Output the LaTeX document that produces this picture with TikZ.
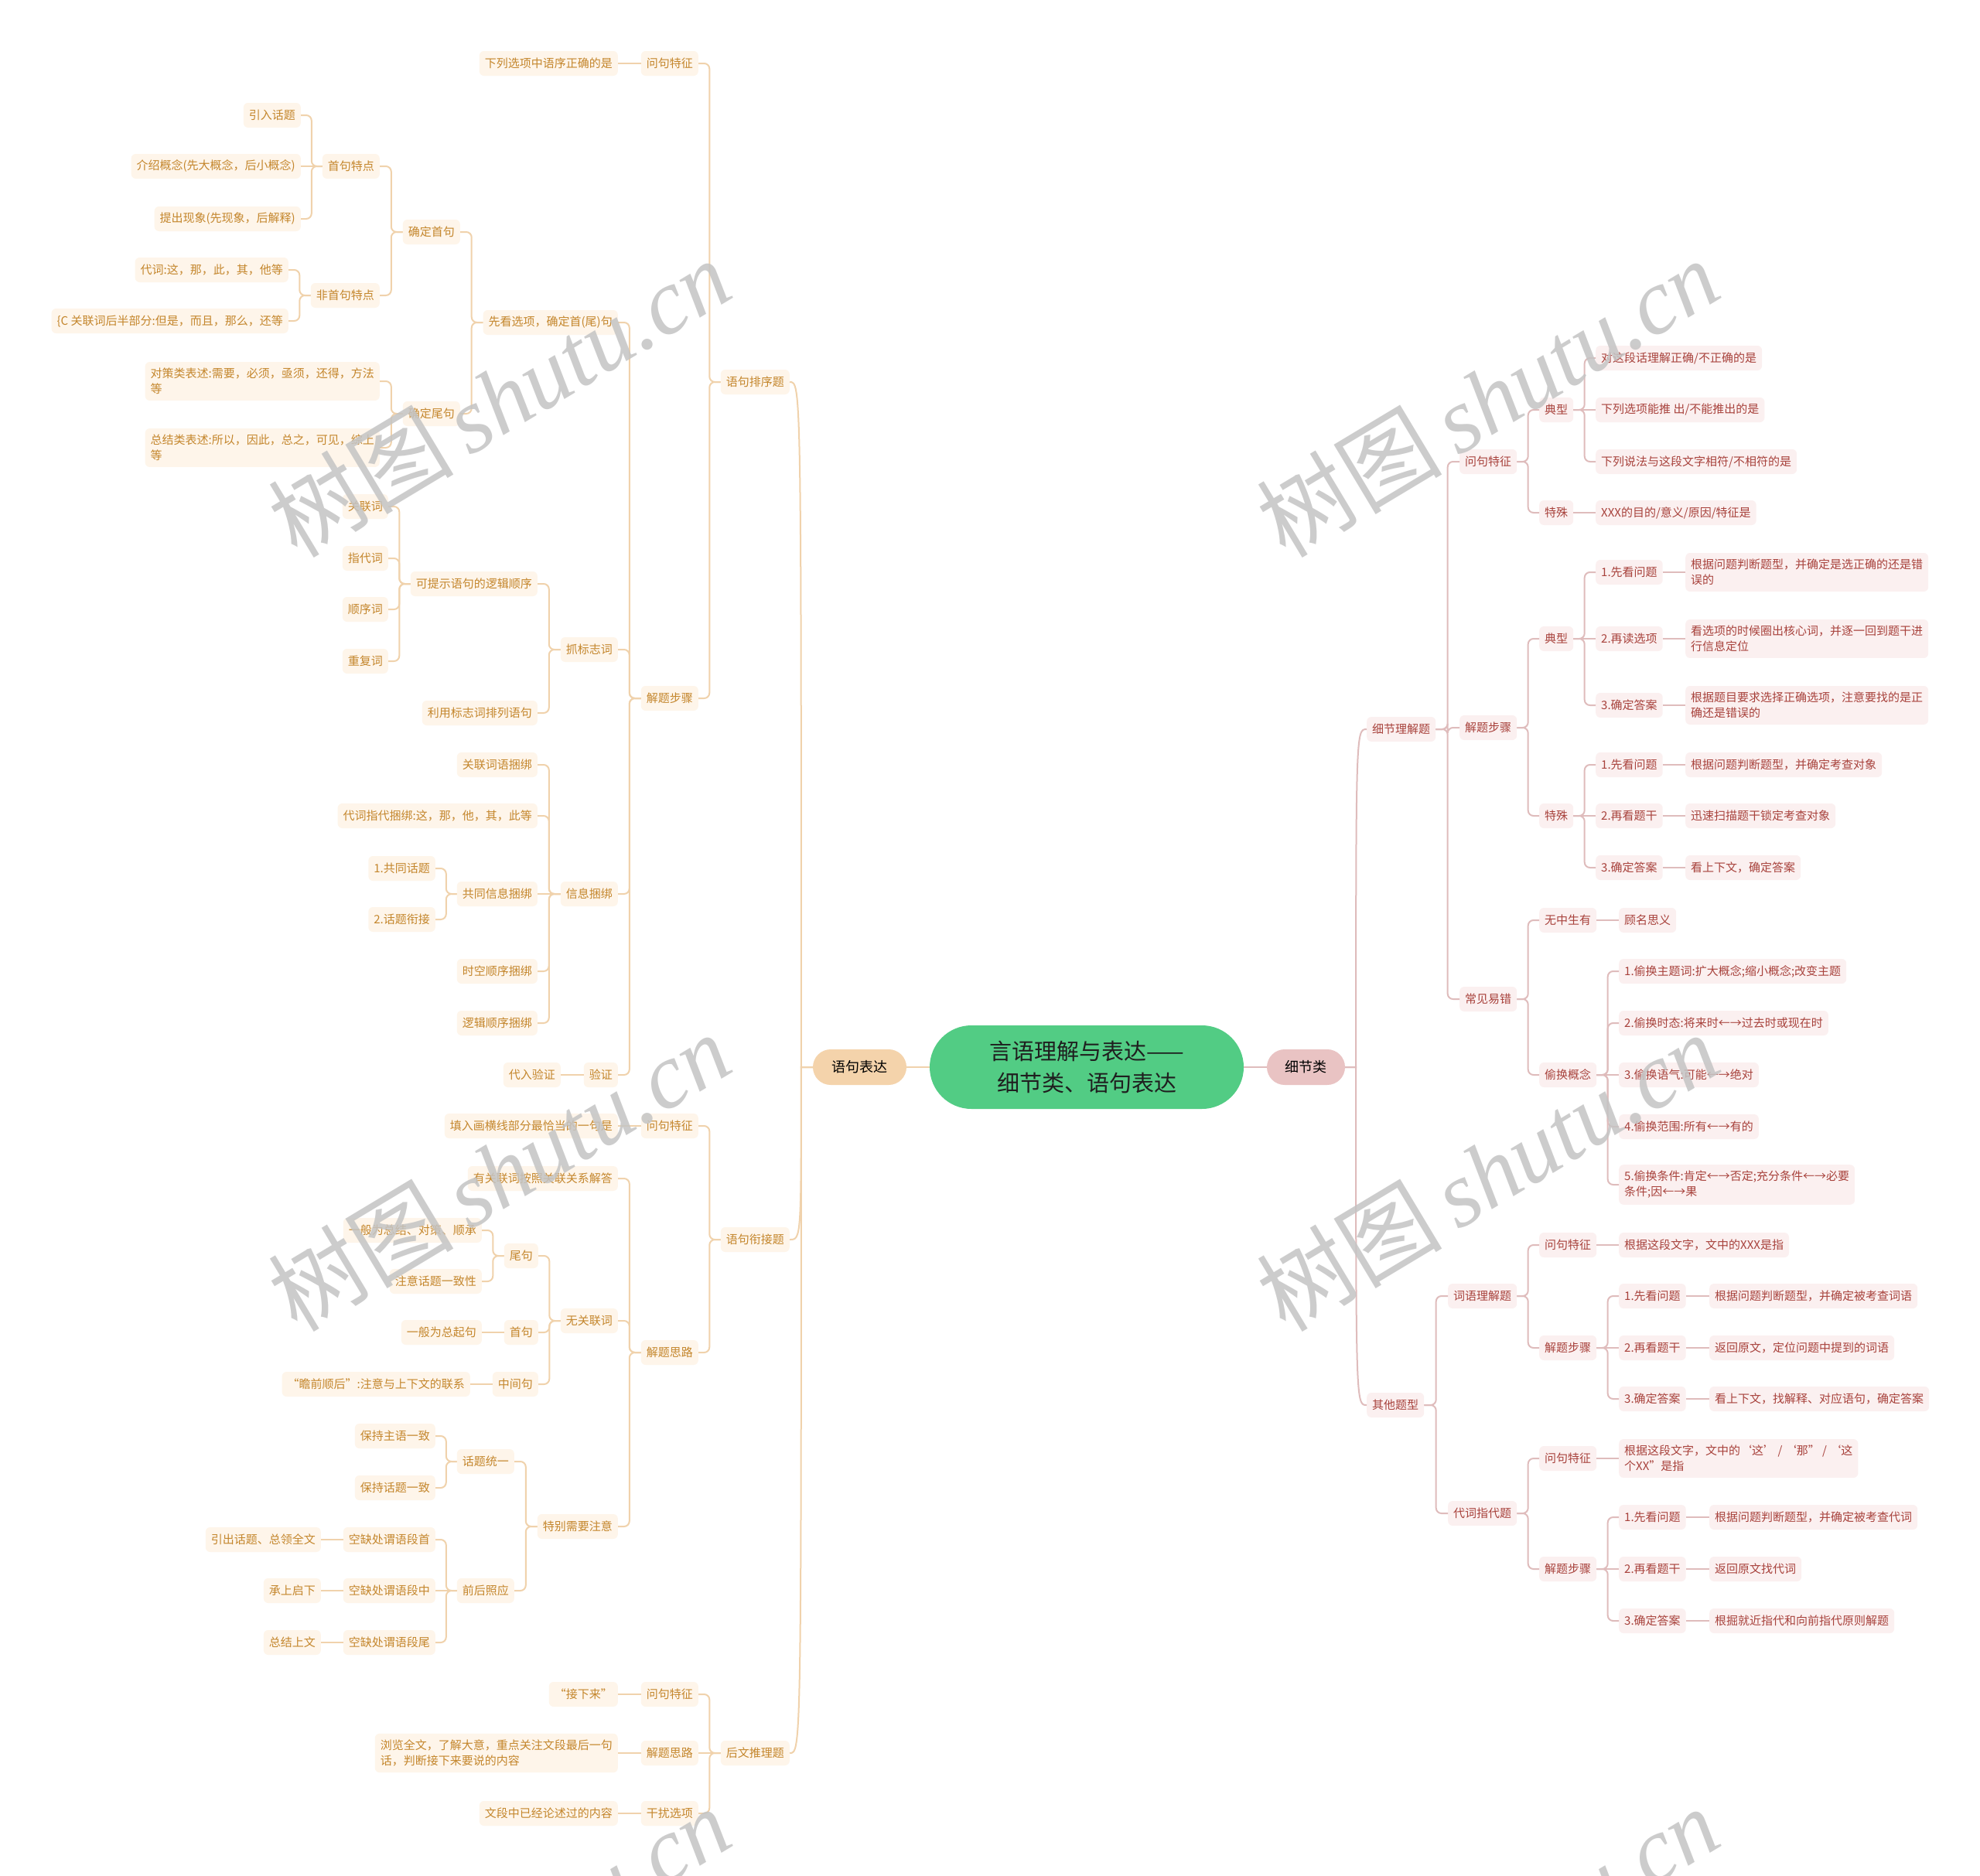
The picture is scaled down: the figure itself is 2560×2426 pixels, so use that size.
\documentclass[tikz,border=0pt]{standalone}
\usepackage{fontspec}
\setmainfont{Noto Sans CJK SC}
\newfontfamily\wmlatin{Liberation Serif}
\usetikzlibrary{calc}
\definecolor{ltxt}{HTML}{C4862C}
\definecolor{lfill}{HTML}{FEF5EA}
\definecolor{lline}{HTML}{F0D2AC}
\definecolor{rtxt}{HTML}{A8423C}
\definecolor{rfill}{HTML}{FBF0F0}
\definecolor{rline}{HTML}{DFBCBC}
\definecolor{rootg}{HTML}{52CC84}
\definecolor{lpill}{HTML}{F4D3AB}
\definecolor{rpill}{HTML}{E9C3C3}
\definecolor{wmgray}{HTML}{C4C4C4}
\newcommand\mmL[2]{\draw[lcon] (#1.west) -- ($(#1.west)!.5!(#1.west-|#2.east)$) |- (#2.east);}
\newcommand\mmR[2]{\draw[rcon] (#1.east) -- ($(#1.east)!.5!(#1.east-|#2.west)$) |- (#2.west);}
\newcommand\mmLs[2]{\draw[lcon] (#1.west) -- (#2.east);}
\newcommand\mmRs[2]{\draw[rcon] (#1.east) -- (#2.west);}
\newcommand\mmLroot[2]{\path ($(#1.west)!.5!(#1.west-|#2.east)$) coordinate (tmpc);
  \draw[lcon,sharp corners] (#1.west) -- (tmpc) .. controls (tmpc|-#2.east) .. (#2.east);}
\newcommand\mmRroot[2]{\path ($(#1.east)!.5!(#1.east-|#2.west)$) coordinate (tmpc);
  \draw[rcon,sharp corners] (#1.east) -- (tmpc) .. controls (tmpc|-#2.west) .. (#2.west);}
\begin{document}
\begin{tikzpicture}[x=1pt,y=-1pt,
  base/.style={rounded corners=6pt, inner xsep=7pt, inner ysep=8pt, minimum height=32pt, font=\fontsize{15}{20}\selectfont, align=left},
  L/.style={base, fill=lfill, text=ltxt, anchor=east},
  R/.style={base, fill=rfill, text=rtxt, anchor=west},
  lcon/.style={draw=lline, line width=2pt, rounded corners=7pt},
  rcon/.style={draw=rline, line width=2pt, rounded corners=7pt},
  pill/.style={rounded corners=23pt, minimum height=46pt, inner sep=0pt, font=\fontsize{18}{20}\selectfont, text=black},
  wm/.style={text=wmgray, font=\fontsize{120}{120}\selectfont, rotate=31, opacity=0.85}]
\useasboundingbox (0,0) rectangle (2560,2426);
\fill[white] (0,0) rectangle (2560,2426);
\clip (0,0) rectangle (2560,2426);

% ---------- centre ----------
\node[fill=rootg, rounded corners=54pt, minimum width=406pt, minimum height=108pt, inner sep=0pt,
  align=center, font=\fontsize{29}{41}\selectfont, text=black!88] (root) at (1405,1380) {言语理解与表达——\\细节类、语句表达};
\node[pill, fill=lpill, minimum width=121pt] (p1) at (1111.5,1380) {语句表达};
\node[pill, fill=rpill, minimum width=101pt] (p2) at (1688.5,1380) {细节类};
\draw[lcon] (root.west) -- (p1.east);
\draw[rcon] (root.east) -- (p2.west);

% ---------- left: 语句排序题 ----------
\node[L] (a1) at (1021,494) {语句排序题};
\node[L] (a11) at (903,82) {问句特征};
\node[L] (a111) at (799,82) {下列选项中语序正确的是};
\node[L] (a12) at (903,903) {解题步骤};
\node[L] (a121) at (799,417) {先看选项，确定首(尾)句};
\node[L] (a1211) at (595,300) {确定首句};
\node[L] (a12111) at (491,215) {首句特点};
\node[L] (h1) at (389,149) {引入话题};
\node[L] (h2) at (389,215) {介绍概念(先大概念，后小概念)};
\node[L] (h3) at (389,283) {提出现象(先现象，后解释)};
\node[L] (a12112) at (491,382) {非首句特点};
\node[L] (h4) at (373,349) {代词:这，那，此，其，他等};
\node[L] (h5) at (373,415) {\{C 关联词后半部分:但是，而且，那么，还等};
\node[L] (a1212) at (595,535) {确定尾句};
\node[L] (h6) at (491,493) {对策类表述:需要，必须，亟须，还得，方法\\等};
\node[L] (h7) at (491,579) {总结类表述:所以，因此，总之，可见，综上\\等};
\node[L] (a122) at (799,840) {抓标志词};
\node[L] (a1221) at (695,755) {可提示语句的逻辑顺序};
\node[L] (k1) at (502,655) {关联词};
\node[L] (k2) at (502,722) {指代词};
\node[L] (k3) at (502,788) {顺序词};
\node[L] (k4) at (502,855) {重复词};
\node[L] (a1222) at (695,922) {利用标志词排列语句};
\node[L] (a123) at (799,1156) {信息捆绑};
\node[L] (m1) at (695,989) {关联词语捆绑};
\node[L] (m2) at (695,1055) {代词指代捆绑:这，那，他，其，此等};
\node[L] (m3) at (695,1156) {共同信息捆绑};
\node[L] (m31) at (563,1123) {1.共同话题};
\node[L] (m32) at (563,1189) {2.话题衔接};
\node[L] (m4) at (695,1256) {时空顺序捆绑};
\node[L] (m5) at (695,1323) {逻辑顺序捆绑};
\node[L] (a124) at (799,1390) {验证};
\node[L] (a1241) at (725,1390) {代入验证};

% ---------- left: 语句衔接题 ----------
\node[L] (a2) at (1021,1603) {语句衔接题};
\node[L] (a21) at (903,1456) {问句特征};
\node[L] (a211) at (799,1456) {填入画横线部分最恰当的一句是};
\node[L] (a22) at (903,1749) {解题思路};
\node[L] (a221) at (799,1524) {有关联词按照关联关系解答};
\node[L] (a222) at (799,1708) {无关联词};
\node[L] (a2221) at (696,1624) {尾句};
\node[L] (d1) at (623,1591) {一般为总结、对策、顺承};
\node[L] (d2) at (623,1657) {注意话题一致性};
\node[L] (a2222) at (696,1723) {首句};
\node[L] (d3) at (623,1723) {一般为总起句};
\node[L] (a2223) at (696,1790) {中间句};
\node[L] (d4) at (608,1790) {“瞻前顺后”:注意与上下文的联系};
\node[L] (a223) at (799,1974) {特别需要注意};
\node[L] (a2231) at (665,1890) {话题统一};
\node[L] (e1) at (563,1857) {保持主语一致};
\node[L] (e2) at (563,1924) {保持话题一致};
\node[L] (a2232) at (665,2057) {前后照应};
\node[L] (f1) at (563,1991) {空缺处谓语段首};
\node[L] (f2) at (563,2057) {空缺处谓语段中};
\node[L] (f3) at (563,2124) {空缺处谓语段尾};
\node[L] (g1) at (415,1991) {引出话题、总领全文};
\node[L] (g2) at (415,2057) {承上启下};
\node[L] (g3) at (415,2124) {总结上文};

% ---------- left: 后文推理题 ----------
\node[L] (a3) at (1021,2267) {后文推理题};
\node[L] (a31) at (903,2191) {问句特征};
\node[L] (a311) at (799,2191) {“接下来”};
\node[L] (a32) at (903,2267) {解题思路};
\node[L] (a321) at (799,2267) {浏览全文，了解大意，重点关注文段最后一句\\话，判断接下来要说的内容};
\node[L] (a33) at (903,2345) {干扰选项};
\node[L] (a331) at (799,2345) {文段中已经论述过的内容};

% ---------- right: 细节理解题 ----------
\node[R] (r1) at (1767,943) {细节理解题};
\node[R] (r11) at (1887,597) {问句特征};
\node[R] (r111) at (1990,530) {典型};
\node[R] (r1111) at (2063,463) {对这段话理解正确/不正确的是};
\node[R] (r1112) at (2063,530) {下列选项能推 出/不能推出的是};
\node[R] (r1113) at (2063,597) {下列说法与这段文字相符/不相符的是};
\node[R] (r112) at (1990,663) {特殊};
\node[R] (r1121) at (2063,663) {XXX的目的/意义/原因/特征是};
\node[R] (r12) at (1887,941) {解题步骤};
\node[R] (r121) at (1990,826) {典型};
\node[R] (s1) at (2063,740) {1.先看问题};
\node[R] (s1a) at (2179,740) {根据问题判断题型，并确定是选正确的还是错\\误的};
\node[R] (s2) at (2063,826) {2.再读选项};
\node[R] (s2a) at (2179,826) {看选项的时候圈出核心词，并逐一回到题干进\\行信息定位};
\node[R] (s3) at (2063,912) {3.确定答案};
\node[R] (s3a) at (2179,912) {根据题目要求选择正确选项，注意要找的是正\\确还是错误的};
\node[R] (r122) at (1990,1055) {特殊};
\node[R] (t1) at (2063,989) {1.先看问题};
\node[R] (t1a) at (2179,989) {根据问题判断题型，并确定考查对象};
\node[R] (t2) at (2063,1055) {2.再看题干};
\node[R] (t2a) at (2179,1055) {迅速扫描题干锁定考查对象};
\node[R] (t3) at (2063,1122) {3.确定答案};
\node[R] (t3a) at (2179,1122) {看上下文，确定答案};
\node[R] (r13) at (1887,1292) {常见易错};
\node[R] (r131) at (1990,1190) {无中生有};
\node[R] (r1311) at (2093,1190) {顾名思义};
\node[R] (r132) at (1990,1390) {偷换概念};
\node[R] (u1) at (2093,1256) {1.偷换主题词:扩大概念;缩小概念;改变主题};
\node[R] (u2) at (2093,1323) {2.偷换时态:将来时←→过去时或现在时};
\node[R] (u3) at (2093,1390) {3.偷换语气:可能←→绝对};
\node[R] (u4) at (2093,1457) {4.偷换范围:所有←→有的};
\node[R] (u5) at (2093,1532) {5.偷换条件:肯定←→否定;充分条件←→必要\\条件;因←→果};

% ---------- right: 其他题型 ----------
\node[R] (r2) at (1767,1817) {其他题型};
\node[R] (r21) at (1872,1676) {词语理解题};
\node[R] (r211) at (1990,1610) {问句特征};
\node[R] (r2111) at (2093,1610) {根据这段文字，文中的XXX是指};
\node[R] (r212) at (1990,1743) {解题步骤};
\node[R] (v1) at (2093,1676) {1.先看问题};
\node[R] (v1a) at (2210,1676) {根据问题判断题型，并确定被考查词语};
\node[R] (v2) at (2093,1743) {2.再看题干};
\node[R] (v2a) at (2210,1743) {返回原文，定位问题中提到的词语};
\node[R] (v3) at (2093,1809) {3.确定答案};
\node[R] (v3a) at (2210,1809) {看上下文，找解释、对应语句，确定答案};
\node[R] (r22) at (1872,1957) {代词指代题};
\node[R] (r221) at (1990,1886) {问句特征};
\node[R] (r2211) at (2093,1886) {根据这段文字，文中的‘这’ / ‘那” / ‘这\\个XX"是指};
\node[R] (r222) at (1990,2029) {解题步骤};
\node[R] (w1) at (2093,1962) {1.先看问题};
\node[R] (w1a) at (2210,1962) {根据问题判断题型，并确定被考查代词};
\node[R] (w2) at (2093,2029) {2.再看题干};
\node[R] (w2a) at (2210,2029) {返回原文找代词};
\node[R] (w3) at (2093,2096) {3.确定答案};
\node[R] (w3a) at (2210,2096) {根掘就近指代和向前指代原则解题};

% ---------- connectors left ----------
\mmLroot{p1}{a1}\mmLroot{p1}{a2}\mmLroot{p1}{a3}
\mmL{a1}{a11}\mmL{a1}{a12}
\mmLs{a11}{a111}
\mmL{a12}{a121}\mmL{a12}{a122}\mmL{a12}{a123}\mmL{a12}{a124}
\mmL{a121}{a1211}\mmL{a121}{a1212}
\mmL{a1211}{a12111}\mmL{a1211}{a12112}
\mmL{a12111}{h1}\mmLs{a12111}{h2}\mmL{a12111}{h3}
\mmL{a12112}{h4}\mmL{a12112}{h5}
\mmL{a1212}{h6}\mmL{a1212}{h7}
\mmL{a122}{a1221}\mmL{a122}{a1222}
\mmL{a1221}{k1}\mmL{a1221}{k2}\mmL{a1221}{k3}\mmL{a1221}{k4}
\mmL{a123}{m1}\mmL{a123}{m2}\mmLs{a123}{m3}\mmL{a123}{m4}\mmL{a123}{m5}
\mmL{m3}{m31}\mmL{m3}{m32}
\mmLs{a124}{a1241}
\mmL{a2}{a21}\mmL{a2}{a22}
\mmLs{a21}{a211}
\mmL{a22}{a221}\mmL{a22}{a222}\mmL{a22}{a223}
\mmL{a222}{a2221}\mmL{a222}{a2222}\mmL{a222}{a2223}
\mmL{a2221}{d1}\mmL{a2221}{d2}
\mmLs{a2222}{d3}\mmLs{a2223}{d4}
\mmL{a223}{a2231}\mmL{a223}{a2232}
\mmL{a2231}{e1}\mmL{a2231}{e2}
\mmL{a2232}{f1}\mmLs{a2232}{f2}\mmL{a2232}{f3}
\mmLs{f1}{g1}\mmLs{f2}{g2}\mmLs{f3}{g3}
\mmL{a3}{a31}\mmLs{a3}{a32}\mmL{a3}{a33}
\mmLs{a31}{a311}\mmLs{a32}{a321}\mmLs{a33}{a331}

% ---------- connectors right ----------
\mmRroot{p2}{r1}\mmRroot{p2}{r2}
\mmR{r1}{r11}\mmR{r1}{r12}\mmR{r1}{r13}
\mmR{r11}{r111}\mmR{r11}{r112}
\mmR{r111}{r1111}\mmRs{r111}{r1112}\mmR{r111}{r1113}
\mmRs{r112}{r1121}
\mmR{r12}{r121}\mmR{r12}{r122}
\mmR{r121}{s1}\mmRs{r121}{s2}\mmR{r121}{s3}
\mmRs{s1}{s1a}\mmRs{s2}{s2a}\mmRs{s3}{s3a}
\mmR{r122}{t1}\mmRs{r122}{t2}\mmR{r122}{t3}
\mmRs{t1}{t1a}\mmRs{t2}{t2a}\mmRs{t3}{t3a}
\mmR{r13}{r131}\mmR{r13}{r132}
\mmRs{r131}{r1311}
\mmR{r132}{u1}\mmR{r132}{u2}\mmRs{r132}{u3}\mmR{r132}{u4}\mmR{r132}{u5}
\mmR{r2}{r21}\mmR{r2}{r22}
\mmR{r21}{r211}\mmR{r21}{r212}
\mmRs{r211}{r2111}
\mmR{r212}{v1}\mmRs{r212}{v2}\mmR{r212}{v3}
\mmRs{v1}{v1a}\mmRs{v2}{v2a}\mmRs{v3}{v3a}
\mmR{r22}{r221}\mmR{r22}{r222}
\mmRs{r221}{r2211}
\mmR{r222}{w1}\mmRs{r222}{w2}\mmR{r222}{w3}
\mmRs{w1}{w1a}\mmRs{w2}{w2a}\mmRs{w3}{w3a}

% ---------- watermark ----------
\node[wm] (wm1) at (645,514) {树图\,{\wmlatin\itshape shutu.cn}};
\node[wm] (wm2) at (645,1515) {树图\,{\wmlatin\itshape shutu.cn}};
\node[wm] (wm3) at (645,2516) {树图\,{\wmlatin\itshape shutu.cn}};
\node[wm] (wm4) at (1923,514) {树图\,{\wmlatin\itshape shutu.cn}};
\node[wm] (wm5) at (1923,1515) {树图\,{\wmlatin\itshape shutu.cn}};
\node[wm] (wm6) at (1923,2516) {树图\,{\wmlatin\itshape shutu.cn}};
\end{tikzpicture}
\end{document}
